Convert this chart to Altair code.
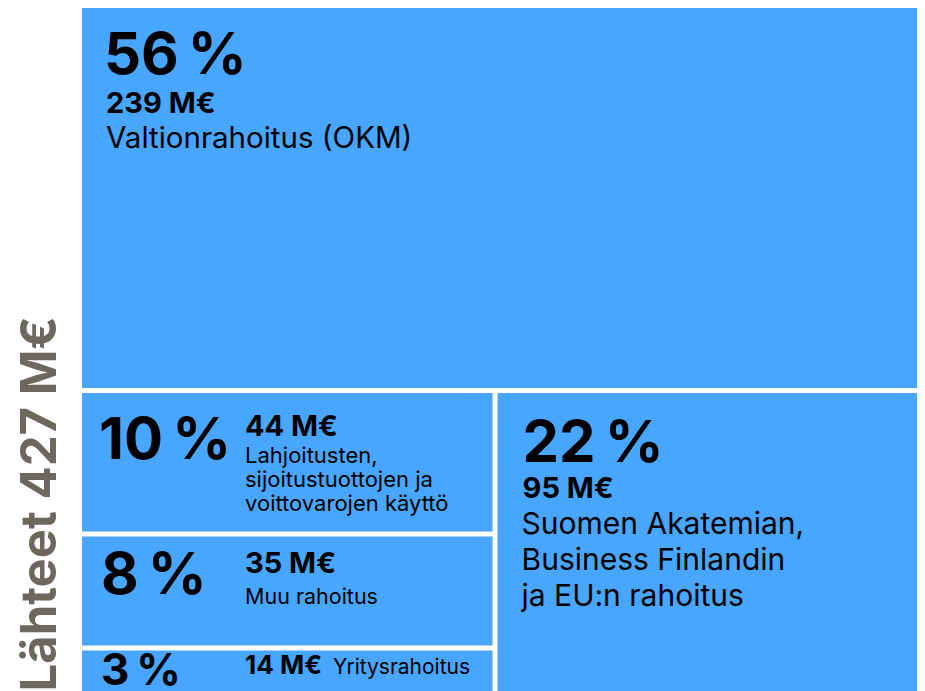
import altair as alt
import pandas as pd

# ---- data ----
names = [
    "Valtionrahoitus (OKM)",
    "Suomen Akatemian,\nBusiness Finlandin\nja EU:n rahoitus",
    "Lahjoitusten,\nsijoitustuottojen ja\nvoittovarojen käyttö",
    "Muu rahoitus",
    "Yritysrahoitus",
]
amounts = [239, 95, 44, 35, 14]          # M€
groups = ["top", "right", "left", "left", "left"]
title_text = "Lähteet 427 M€"

BLUE = "#48a6ff"
INK = "#000000"
GREY = "#6c6860"
FONT = "Inter"

# ---- slice-and-dice treemap layout in value units ----
total = sum(amounts)
rest = total - amounts[0]
left_sum = sum(a for a, g in zip(amounts, groups) if g == "left")
split = left_sum / rest
rows = []
ycur = amounts[0]
for i, (n, a, g) in enumerate(zip(names, amounts, groups)):
    if g == "top":
        x0, x1, y0, y1 = 0.0, 1.0, 0.0, float(amounts[0])
    elif g == "right":
        x0, x1, y0, y1 = split, 1.0, float(amounts[0]), float(total)
    else:
        h = a / left_sum * rest
        x0, x1, y0, y1 = 0.0, split, ycur, ycur + h
        ycur += h
    rows.append(dict(id=i, x0=x0, x1=x1, y0=y0, y1=y1,
                     pct=f"{round(a / total * 100)}\u2009%",
                     amt=f"{a} M€", label=n))
df = pd.DataFrame(rows)

xscale = alt.Scale(domain=[0, 0.994], nice=False, zero=False)
yscale = alt.Scale(domain=[0, total], nice=False, zero=False, reverse=True)
yaxis = alt.Axis(title=title_text, labels=False, ticks=False,
                 domain=False, grid=False, titleFont=FONT,
                 titleFontSize=49, titleFontWeight="bold",
                 titleColor=GREY, titleAngle=270,
                 titleAlign="left", titleBaseline="alphabetic",
                 titleX=-27, titleY=683)

base = alt.Chart(df)

rects = base.mark_rect(color=BLUE, x2Offset=-5, y2Offset=-5, clip=True).encode(
    x=alt.X("x0:Q", scale=xscale, axis=None),
    x2="x1:Q",
    y=alt.Y("y0:Q", scale=yscale, axis=yaxis),
    y2="y1:Q",
)


def txt(idx, field, size, weight, dx, dy, lh=None):
    kw = dict(align="left", baseline="alphabetic", font=FONT, fontSize=size,
              fontWeight=weight, color=INK, dx=dx, dy=dy, lineBreak="\n")
    if lh:
        kw["lineHeight"] = lh
    return base.transform_filter(alt.datum.id == idx).mark_text(**kw).encode(
        x=alt.X("x0:Q", scale=xscale, axis=None),
        y=alt.Y("y0:Q", scale=yscale, axis=yaxis),
        text=f"{field}:N",
    )


layers = [
    rects,
    # top box
    txt(0, "pct", 58, "bold", 22, 66),
    txt(0, "amt", 29, "bold", 24, 104.5),
    txt(0, "label", 29.5, "normal", 24, 139.5),
    # right box
    txt(1, "pct", 58, "bold", 25, 68.7),
    txt(1, "amt", 29, "bold", 25, 104.5),
    txt(1, "label", 30, "normal", 24, 140.8, 36.2),
    # 10 %
    txt(2, "pct", 58, "bold", 17, 66),
    txt(2, "amt", 29, "bold", 163, 43),
    txt(2, "label", 22, "normal", 163, 69.5, 24.3),
    # 8 %
    txt(3, "pct", 58, "bold", 19, 58),
    txt(3, "amt", 29, "bold", 163, 36.4),
    txt(3, "label", 21.5, "normal", 163, 68),
    # 3 %
    txt(4, "pct", 44, "bold", 19, 34.3),
    txt(4, "amt", 26, "bold", 163, 23.3),
    txt(4, "label", 21, "normal", 251, 23.3),
]

chart = alt.layer(*layers).properties(
    width=835, height=688,
    autosize=alt.AutoSizeParams(type="none"),
    padding={"left": 74, "top": 0, "right": 0, "bottom": 0},
    background="white",
).configure_view(stroke=None)

chart.save("out.html", embed_options={"renderer": "svg", "actions": False})
